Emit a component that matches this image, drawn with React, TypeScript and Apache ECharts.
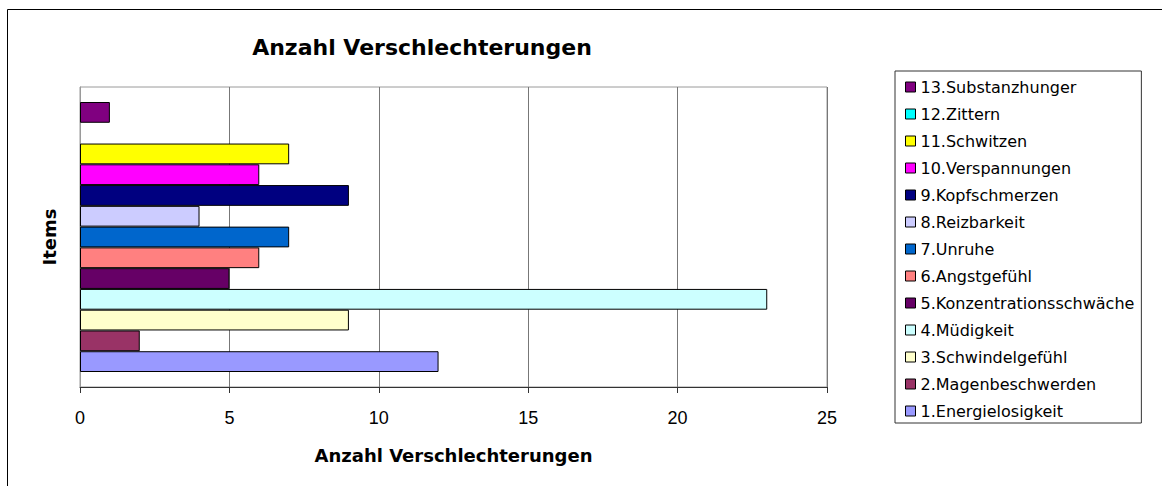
import React, { useEffect, useRef } from "react";
import * as echarts from "echarts";

const items = [
  "1.Energielosigkeit",
  "2.Magenbeschwerden",
  "3.Schwindelgefühl",
  "4.Müdigkeit",
  "5.Konzentrationsschwäche",
  "6.Angstgefühl",
  "7.Unruhe",
  "8.Reizbarkeit",
  "9.Kopfschmerzen",
  "10.Verspannungen",
  "11.Schwitzen",
  "12.Zittern",
  "13.Substanzhunger",
];
const values = [12, 2, 9, 23, 5, 6, 7, 4, 9, 6, 7, 0, 1];
const colors = [
  "#9999FF",
  "#993366",
  "#FFFFCC",
  "#CCFFFF",
  "#660066",
  "#FF8080",
  "#0066CC",
  "#CCCCFF",
  "#000080",
  "#FF00FF",
  "#FFFF00",
  "#00FFFF",
  "#800080",
];
const category = ["Items"];
const xMin = 0;
const xMax = 25;
const xStep = 5;
const titleText = "Anzahl Verschlechterungen";
const xAxisName = "Anzahl Verschlechterungen";
const yAxisName = "Items";

export default function App() {
  const ref = useRef<HTMLDivElement>(null);
  useEffect(() => {
    document.body.style.margin = "0";
    if (!ref.current) return;
    const chart = echarts.init(ref.current, undefined, { renderer: "svg" });
    const order = items.map((_, i) => i).reverse();
    const series = order.map((i) => ({
      type: "bar",
      name: items[i],
      data: [
        {
          value: values[i],
          itemStyle: values[i] === 0 ? { borderWidth: 0 } : undefined,
        },
      ],
      barGap: "0%",
      barCategoryGap: "10%",
      itemStyle: { color: colors[i], borderColor: "#000", borderWidth: 1 },
    }));
    chart.setOption({
      animation: false,
      backgroundColor: "#fff",
      grid: {
        left: 80,
        top: 87,
        right: 335,
        bottom: 99,
        show: true,
        borderColor: "#9a9a9a",
        borderWidth: 1,
      },
      xAxis: {
        type: "value",
        min: xMin,
        max: xMax,
        interval: xStep,
        name: xAxisName,
        nameLocation: "middle",
        nameGap: 59,
        nameTextStyle: {
          fontFamily: "DejaVu Sans",
          fontWeight: "bold",
          fontSize: 18,
          color: "#000",
        },
        axisLine: { show: true, onZero: false, lineStyle: { color: "#333", width: 1 } },
        axisTick: { show: true, length: 6, lineStyle: { color: "#333" } },
        axisLabel: {
          margin: 22,
          fontFamily: "Liberation Sans",
          fontSize: 18,
          color: "#000",
        },
        splitLine: { show: true, lineStyle: { color: "#777", width: 1 } },
      },
      yAxis: {
        type: "category",
        data: category,
        name: yAxisName,
        nameLocation: "middle",
        nameGap: 22,
        nameRotate: 90,
        nameTextStyle: {
          fontFamily: "DejaVu Sans",
          fontWeight: "bold",
          fontSize: 18,
          color: "#000",
        },
        axisLine: { show: true, lineStyle: { color: "#9a9a9a" } },
        axisTick: { show: false },
        axisLabel: { show: false },
        splitLine: { show: false },
      },
      legend: {
        orient: "vertical",
        left: 895,
        top: 71,
        data: [...items].reverse(),
        icon: "rect",
        itemWidth: 10,
        itemHeight: 10,
        itemGap: 10,
        padding: [7.5, 7, 3.5, 10],
        borderColor: "#333",
        borderWidth: 1,
        backgroundColor: "#fff",
        selectedMode: false,
        itemStyle: { borderColor: "#000", borderWidth: 1 },
        textStyle: {
          fontFamily: "DejaVu Sans",
          fontSize: 16,
          lineHeight: 17,
          color: "#000",
        },
      },
      graphic: [
        {
          type: "line",
          shape: { x1: 7.5, y1: 9.5, x2: 1162, y2: 9.5 },
          style: { stroke: "#000", lineWidth: 1 },
        },
        {
          type: "line",
          shape: { x1: 7.5, y1: 9.5, x2: 7.5, y2: 486 },
          style: { stroke: "#000", lineWidth: 1 },
        },
        {
          type: "text",
          x: 422,
          y: 47,
          style: {
            text: titleText,
            fontFamily: "DejaVu Sans",
            fontWeight: "bold",
            fontSize: 22,
            fill: "#000",
            align: "center",
            verticalAlign: "middle",
          },
        },
      ],
      series,
    });
    return () => chart.dispose();
  }, []);
  return <div ref={ref} style={{ width: 1162, height: 486 }} />;
}
